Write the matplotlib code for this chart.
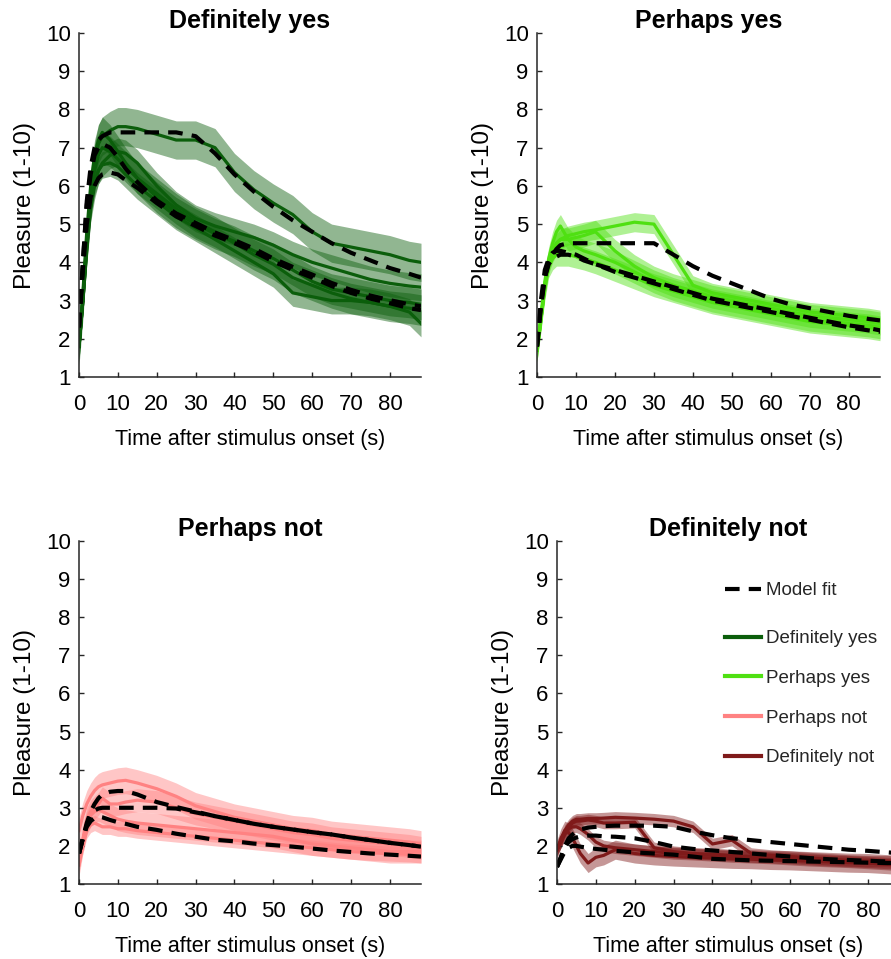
import numpy as np
import matplotlib.pyplot as plt
from matplotlib.lines import Line2D

plt.rcParams['font.family'] = ['Liberation Sans', 'DejaVu Sans']

# time points (s)
t = [0, 1, 2, 3, 4, 5, 6, 8, 10, 12, 15, 20, 25, 30, 35, 40, 45, 50, 55, 60, 65, 70, 75, 80, 85, 88]

titles = ['Definitely yes', 'Perhaps yes', 'Perhaps not', 'Definitely not']
line_colors = ['#0b5e0b', '#4fe012', '#ff8282', '#7f1a1a']

# Definitely yes - mean ratings
dy_long = [1.8, 3.0, 4.5, 5.8, 6.6, 7.1, 7.3, 7.45, 7.55, 7.55, 7.5, 7.35, 7.2, 7.2, 7.0, 6.35, 5.9, 5.55, 5.25, 4.8, 4.5, 4.4, 4.3, 4.2, 4.05, 4.0]
dy_s1 = [1.8, 3.2, 4.8, 6.0, 6.8, 7.2, 7.4, 7.2, 6.9, 6.6, 6.2, 5.7, 5.3, 5.0, 4.75, 4.55, 4.3, 4.1, 3.8, 3.5, 3.3, 3.2, 3.1, 3.0, 2.95, 2.9]
dy_s2 = [1.8, 3.0, 4.3, 5.4, 6.0, 6.4, 6.6, 6.8, 6.9, 6.85, 6.6, 6.0, 5.5, 5.15, 4.95, 4.8, 4.65, 4.45, 4.2, 4.0, 3.85, 3.7, 3.55, 3.45, 3.38, 3.35]
dy_s3 = [1.8, 3.0, 4.4, 5.5, 6.1, 6.4, 6.55, 6.6, 6.5, 6.3, 6.0, 5.6, 5.2, 4.9, 4.6, 4.3, 4.0, 3.7, 3.2, 3.1, 3.0, 3.0, 2.95, 2.85, 2.7, 2.4]
dy_s4 = [1.8, 3.1, 4.6, 5.7, 6.4, 6.8, 7.0, 6.9, 6.7, 6.5, 6.2, 5.8, 5.4, 5.05, 4.8, 4.5, 4.2, 3.95, 3.6, 3.4, 3.2, 3.05, 2.95, 2.85, 2.8, 2.75]
dy_sem = [0.5, 0.4, 0.35, 0.35, 0.4]

# Perhaps yes - mean ratings
py_long = [1.7, 2.5, 3.4, 4.0, 4.3, 4.5, 4.6, 4.7, 4.75, 4.8, 4.85, 4.95, 5.05, 5.0, 4.2, 3.4, 3.2, 3.1, 3.0, 2.9, 2.8, 2.7, 2.65, 2.6, 2.55, 2.5]
py_s1 = [1.7, 2.6, 3.5, 4.1, 4.5, 4.8, 4.95, 4.6, 4.4, 4.3, 4.2, 4.0, 3.75, 3.5, 3.3, 3.15, 3.0, 2.9, 2.8, 2.7, 2.6, 2.5, 2.45, 2.4, 2.35, 2.3]
py_s2 = [1.7, 2.5, 3.4, 4.0, 4.3, 4.5, 4.6, 4.6, 4.65, 4.7, 4.8, 4.3, 3.9, 3.6, 3.4, 3.25, 3.1, 3.0, 2.9, 2.8, 2.7, 2.6, 2.55, 2.5, 2.45, 2.4]
py_s3 = [1.7, 2.5, 3.3, 3.9, 4.1, 4.2, 4.2, 4.2, 4.15, 4.1, 4.0, 3.8, 3.6, 3.4, 3.25, 3.1, 2.95, 2.85, 2.75, 2.65, 2.55, 2.45, 2.4, 2.35, 2.3, 2.25]
py_sem = [0.25, 0.3, 0.3, 0.3]

# Perhaps not - mean ratings
pn_a = [2.4, 2.8, 3.1, 3.3, 3.45, 3.55, 3.6, 3.65, 3.7, 3.72, 3.65, 3.5, 3.3, 3.05, 2.9, 2.75, 2.65, 2.55, 2.45, 2.4, 2.3, 2.25, 2.2, 2.15, 2.1, 2.05]
pn_b = [1.6, 2.2, 2.7, 2.9, 3.0, 3.1, 3.25, 3.1, 3.1, 3.15, 3.2, 3.15, 3.0, 2.85, 2.75, 2.65, 2.55, 2.45, 2.35, 2.3, 2.2, 2.15, 2.1, 2.05, 2.0, 1.95]
pn_c = [1.6, 2.0, 2.4, 2.55, 2.6, 2.55, 2.5, 2.5, 2.45, 2.45, 2.4, 2.35, 2.3, 2.25, 2.2, 2.15, 2.1, 2.05, 2.0, 1.95, 1.9, 1.85, 1.82, 1.8, 1.78, 1.75]
pn_d = [1.5, 2.1, 2.6, 2.8, 2.9, 2.95, 2.9, 2.8, 2.7, 2.65, 2.6, 2.55, 2.5, 2.45, 2.4, 2.35, 2.3, 2.25, 2.15, 2.05, 2.0, 1.95, 1.9, 1.85, 1.85, 1.85]
pn_sem = [0.35, 0.3, 0.2, 0.3]

# Definitely not - mean ratings
dn_long = [1.9, 2.1, 2.4, 2.55, 2.65, 2.7, 2.7, 2.72, 2.72, 2.73, 2.75, 2.73, 2.7, 2.65, 2.5, 2.05, 2.15, 1.8, 1.75, 1.72, 1.68, 1.65, 1.62, 1.6, 1.6, 1.58]
dn_med = [1.9, 2.1, 2.35, 2.5, 2.6, 2.65, 2.65, 2.68, 2.65, 2.6, 2.6, 2.62, 1.95, 1.85, 1.8, 1.78, 1.75, 1.72, 1.7, 1.68, 1.65, 1.62, 1.6, 1.58, 1.55, 1.55]
dn_s1 = [1.9, 2.1, 2.3, 2.45, 2.5, 2.5, 2.45, 2.3, 2.1, 2.0, 1.95, 1.9, 1.85, 1.8, 1.78, 1.75, 1.72, 1.7, 1.68, 1.65, 1.62, 1.6, 1.58, 1.55, 1.52, 1.5]
dn_s2 = [1.9, 2.2, 2.4, 2.35, 2.2, 2.0, 1.8, 1.55, 1.7, 1.75, 1.9, 1.8, 1.75, 1.72, 1.7, 1.68, 1.66, 1.65, 1.63, 1.62, 1.6, 1.58, 1.56, 1.55, 1.52, 1.5]
dn_sem = [0.15, 0.15, 0.15, 0.25]

# model fits
dy_fit = [
    [2.3, 4.0, 5.6, 6.5, 7.0, 7.2, 7.3, 7.4, 7.4, 7.4, 7.4, 7.4, 7.4, 7.3, 6.85, 6.3, 5.85, 5.45, 5.1, 4.8, 4.5, 4.25, 4.05, 3.85, 3.7, 3.6],
    [2.3, 3.8, 5.0, 5.7, 6.0, 6.2, 6.3, 6.35, 6.3, 6.15, 5.95, 5.55, 5.2, 4.95, 4.7, 4.5, 4.28, 4.02, 3.8, 3.6, 3.38, 3.2, 3.05, 2.93, 2.8, 2.75],
    [2.3, 4.0, 5.5, 6.3, 6.8, 7.0, 7.1, 7.0, 6.75, 6.45, 6.1, 5.62, 5.28, 5.03, 4.78, 4.58, 4.36, 4.1, 3.88, 3.68, 3.46, 3.28, 3.13, 3.01, 2.9, 2.85],
]
py_fit = [
    [1.8, 2.8, 3.6, 4.0, 4.2, 4.35, 4.45, 4.5, 4.5, 4.5, 4.5, 4.5, 4.5, 4.5, 4.2, 3.9, 3.65, 3.45, 3.25, 3.05, 2.9, 2.8, 2.7, 2.6, 2.52, 2.48],
    [1.8, 2.9, 3.6, 3.95, 4.1, 4.15, 4.2, 4.2, 4.15, 4.05, 3.95, 3.75, 3.6, 3.45, 3.3, 3.15, 3.0, 2.9, 2.8, 2.7, 2.6, 2.5, 2.4, 2.3, 2.22, 2.18],
    [1.8, 3.0, 3.8, 4.1, 4.25, 4.3, 4.3, 4.25, 4.2, 4.1, 3.95, 3.8, 3.65, 3.5, 3.35, 3.2, 3.05, 2.95, 2.85, 2.75, 2.65, 2.55, 2.45, 2.35, 2.28, 2.22],
]
pn_fit = [
    [1.8, 2.2, 2.6, 2.9, 3.1, 3.25, 3.35, 3.42, 3.44, 3.44, 3.35, 3.15, 3.02, 2.9, 2.78, 2.68, 2.58, 2.5, 2.43, 2.36, 2.3, 2.22, 2.15, 2.08, 2.02, 1.98],
    [1.8, 2.2, 2.55, 2.8, 2.93, 2.98, 3.0, 3.0, 3.0, 3.0, 3.0, 3.0, 2.98, 2.88, 2.78, 2.68, 2.58, 2.5, 2.43, 2.36, 2.3, 2.22, 2.15, 2.08, 2.02, 1.98],
    [1.8, 2.2, 2.5, 2.65, 2.73, 2.77, 2.75, 2.68, 2.62, 2.58, 2.5, 2.42, 2.32, 2.24, 2.16, 2.12, 2.06, 2.02, 1.98, 1.93, 1.88, 1.84, 1.8, 1.77, 1.74, 1.72],
]
dn_fit = [
    [1.45, 1.7, 2.0, 2.2, 2.3, 2.38, 2.43, 2.48, 2.5, 2.52, 2.53, 2.53, 2.53, 2.5, 2.38, 2.28, 2.2, 2.15, 2.1, 2.05, 2.0, 1.95, 1.9, 1.87, 1.83, 1.81],
    [1.45, 1.7, 1.95, 2.1, 2.18, 2.22, 2.25, 2.27, 2.27, 2.25, 2.24, 2.2, 2.1, 1.98, 1.92, 1.88, 1.84, 1.8, 1.76, 1.72, 1.68, 1.65, 1.63, 1.61, 1.59, 1.58],
    [1.45, 1.65, 1.85, 1.95, 2.0, 2.0, 1.98, 1.95, 1.92, 1.9, 1.87, 1.83, 1.8, 1.77, 1.72, 1.66, 1.64, 1.62, 1.61, 1.6, 1.59, 1.58, 1.57, 1.56, 1.55, 1.55],
]

panels = [
    ([dy_long, dy_s1, dy_s2, dy_s3, dy_s4], dy_sem, dy_fit),
    ([py_long, py_s1, py_s2, py_s3], py_sem, py_fit),
    ([pn_a, pn_b, pn_c, pn_d], pn_sem, pn_fit),
    ([dn_long, dn_med, dn_s1, dn_s2], dn_sem, dn_fit),
]

W, H = 891, 959
fig = plt.figure(figsize=(W / 100, H / 100), dpi=100)
# axes boxes in pixels: left, top, right, bottom
boxes = [(79, 33, 421, 377), (537, 33, 880, 377), (79, 541, 421, 884), (557, 541, 899, 884)]

t_arr = np.array(t)
for k, (box, (curves, sem, fits)) in enumerate(zip(boxes, panels)):
    l, tp, r, b = box
    ax = fig.add_axes([l / W, 1 - b / H, (r - l) / W, (b - tp) / H])
    c = line_colors[k]
    for y, s in zip(curves, sem):
        y = np.array(y)
        ax.fill_between(t_arr, y - s, y + s, color=c, alpha=0.45, lw=0)
    for y in curves:
        ax.plot(t_arr, y, color=c, lw=2.3)
    for y in fits:
        ax.plot(t_arr, y, color='black', lw=3, dashes=(3.5, 2.2))
    ax.set_xlim(0, 88)
    ax.set_ylim(1, 10)
    ax.set_xticks(range(0, 81, 10))
    ax.set_yticks(range(1, 11))
    ax.spines['top'].set_visible(False)
    ax.spines['right'].set_visible(False)
    for sp in ['left', 'bottom']:
        ax.spines[sp].set_linewidth(1.1)
        ax.spines[sp].set_color('#262626')
    ax.tick_params(direction='in', length=3.5, width=1, color='#262626', labelsize=16)
    ax.tick_params(axis='x', pad=12)
    ax.tick_params(axis='y', pad=6)
    ax.set_xlabel('Time after stimulus onset (s)', fontsize=15.5, labelpad=10)
    ax.set_ylabel('Pleasure (1-10)', fontsize=17.5, labelpad=7)
    ax.set_title(titles[k], fontsize=18, fontweight='bold', pad=1.5)

    if k == 3:
        h1 = [Line2D([], [], color='black', lw=3, dashes=(3.5, 2.2))]
        leg1 = ax.legend(h1, ['Model fit'], loc='upper left', bbox_to_anchor=(0.491, 0.88),
                         frameon=False, fontsize=13.5, handlelength=1.9, handletextpad=0.27,
                         borderpad=0, borderaxespad=0, labelcolor='#262626')
        ax.add_artist(leg1)
        h2 = [Line2D([], [], color=cc, lw=3) for cc in line_colors]
        ax.legend(h2, titles, loc='upper left', bbox_to_anchor=(0.491, 0.74),
                  frameon=False, fontsize=13.5, handlelength=1.9, handletextpad=0.27,
                  borderpad=0, borderaxespad=0, labelspacing=1.2, labelcolor='#262626')

fig.savefig('out.png', dpi=100)
